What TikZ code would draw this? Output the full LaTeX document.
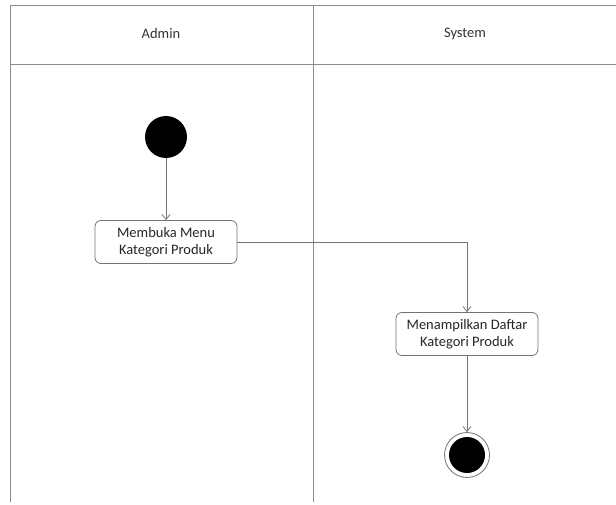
\documentclass[tikz,border=0pt]{standalone}
\usepackage{fontspec}
\setmainfont{Carlito}
\usetikzlibrary{arrows.meta}
\begin{document}
\begin{tikzpicture}[x=1pt,y=-1pt,line width=0.8pt,font=\fontsize{14.5}{17}\selectfont,
  lane/.style={draw=black!45},
  act/.style={draw=black!55,rounded corners=6pt,minimum width=142pt,minimum height=43pt,
    align=center,inner sep=2pt,text=black!85},
  startdot/.style={circle,fill=black,minimum size=42pt,inner sep=0pt},
  endring/.style={circle,draw=black!55,minimum size=45pt,inner sep=0pt},
  flow/.style={draw=black!55,-{Straight Barb[length=5pt,width=8pt]}}]
  \useasboundingbox (0,0) rectangle (616,505);
  % swimlanes
  \draw[lane] (616,5) -- (10,5) -- (10,502);
  \draw[lane] (10,64) -- (616,64);
  \draw[lane] (313,5) -- (313,502);
  \node[text=black!80] (admin) at (161,34) {Admin};
  \node[text=black!80] (system) at (465,34) {System};

  \node[startdot] (start) at (166,137) {};
  \node[act] (menu) at (166,242) {Membuka Menu\\Kategori Produk};
  \node[act] (daftar) at (467,334) {Menampilkan Daftar\\Kategori Produk};
  \node[endring] (final) at (467,455) {};
  \node[startdot,minimum size=36pt] (finaldot) at (final) {};

  \draw[flow] (start) -- (menu);
  \draw[flow] (menu.east) -| (daftar.north);
  \draw[flow] (daftar) -- (final);
\end{tikzpicture}
\end{document}
